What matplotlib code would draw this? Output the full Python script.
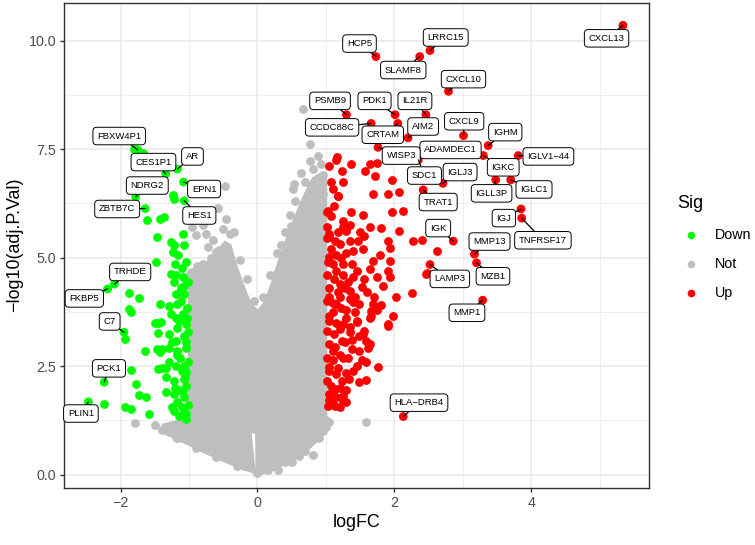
import matplotlib
matplotlib.use("Agg")
import matplotlib.pyplot as plt
from matplotlib.lines import Line2D

plt.rcParams['font.family'] = ['Liberation Sans', 'DejaVu Sans']

# labelled genes: name, logFC, -log10(adj.P.Val)
lab_gene = ["CXCL13", "HCP5", "LRRC15", "SLAMF8", "CXCL10", "PSMB9", "CCDC88C", "PDK1",
            "IL21R", "CRTAM", "AIM2", "CXCL9", "IGHM", "ADAMDEC1", "WISP3", "IGLV1−44",
            "IGKC", "SDC1", "IGLJ3", "IGLL3P", "IGLC1", "TRAT1", "IGJ", "TNFRSF17", "IGK",
            "MMP13", "MZB1", "LAMP3", "MMP1", "HLA−DRB4",
            "FBXW4P1", "CES1P1", "AR", "NDRG2", "ZBTB7C", "EPN1", "HES1", "TRHDE", "FKBP5",
            "C7", "PCK1", "PLIN1"]
lab_fc = [5.34, 1.73, 2.52, 2.37, 2.79, 1.30, 1.66, 2.01,
          2.46, 2.05, 2.20, 3.01, 3.37, 3.05, 1.76, 3.81,
          3.30, 2.35, 2.71, 3.48, 3.70, 2.42, 3.85, 3.86, 2.86,
          3.17, 3.20, 2.52, 3.29, 2.13,
          -1.75, -1.34, -1.17, -1.78, -1.64, -1.08, -1.07, -2.09, -2.19,
          -1.95, -2.24, -2.47]
lab_p = [10.35, 9.63, 9.77, 9.63, 8.83, 8.29, 8.09, 8.29,
         8.29, 8.09, 7.76, 7.81, 7.58, 7.42, 7.54, 7.35,
         7.35, 7.25, 6.71, 6.79, 6.79, 6.56, 6.12, 5.91, 5.38,
         5.08, 4.88, 4.84, 4.02, 1.34,
         7.48, 6.93, 7.04, 6.40, 6.13, 6.74, 6.31, 4.39, 4.28,
         3.28, 2.13, 1.68]

# other significant genes (up)
up_fc = [1.05, 1.15, 1.23, 1.37, 1.64, 1.74, 1.57, 1.71, 1.96, 1.25, 1.08, 1.10, 1.18, 1.69,
         1.91, 2.07, 1.01, 1.37, 1.54, 1.96, 2.13, 1.25, 1.25, 1.30, 1.64, 1.81, 2.07, 2.40,
         2.27, 2.62, 2.47, 2.26, 2.02, 1.01, 1.05, 1.13, 1.35, 1.47, 1.91, 1.40, 1.54, 1.79,
         1.93, 1.69, 1.93, 1.64, 1.91, 1.74, 1.93, 1.84, 1.52, 1.35, 1.49, 1.69, 1.66, 1.98,
         1.91, 1.25, 1.10, 1.05, 1.20, 1.15, 1.05, 1.25, 1.40, 1.35, 1.20, 1.45,
         1.15, 1.40, 1.66, 1.74, 1.64, 1.91, 1.05, 1.45, 1.35, 1.54, 1.59, 1.61, 1.23, 1.10,
         1.49, 1.52, 1.59, 1.76, 1.25, 1.05, 1.15, 1.23, 1.49, 1.59, 1.13, 1.25, 1.30, 1.05,
         1.13, 1.16, 1.18, 1.03, 1.05, 1.20,
         1.02, 1.08, 1.15, 1.03, 1.10, 1.22, 1.30, 1.02, 1.12, 1.25, 1.32, 1.05, 1.18, 1.28,
         1.02, 1.10, 1.22, 1.30, 1.05, 1.15, 1.30, 1.02, 1.12, 1.20, 1.35, 1.04, 1.13, 1.28,
         1.38, 1.02, 1.10, 1.20, 1.32, 1.04, 1.18, 1.30, 1.02, 1.08, 1.20, 1.34, 1.04, 1.15,
         1.03, 1.10, 1.20, 1.42, 1.48, 1.45, 1.38, 1.45, 1.55, 1.60, 1.50, 1.55, 1.35, 1.12,
         1.08, 1.17, 1.42, 1.70, 1.80, 1.55, 1.65, 1.38, 1.40, 1.30, 1.25, 2.46]
up_p = [7.12, 7.24, 7.00, 7.16, 7.16, 7.17, 6.99, 6.89, 6.79, 6.74, 6.74, 6.58, 6.43, 6.47,
        6.47, 6.52, 6.06, 6.04, 5.99, 6.06, 6.08, 5.85, 5.70, 5.62, 5.71, 5.68, 5.62, 5.41,
        5.39, 5.16, 4.64, 4.18, 4.09, 5.70, 5.47, 5.39, 5.39, 5.39, 5.39, 5.16, 5.20, 5.07,
        5.22, 4.92, 4.93, 4.74, 4.70, 4.56, 4.55, 4.35, 4.32, 4.05, 3.93, 3.93, 3.66, 3.66,
        3.47, 3.47, 3.74, 4.09, 4.39, 4.70, 5.01, 4.86, 4.55, 4.24, 4.09, 3.55,
        3.93, 3.97, 3.78, 3.79, 3.62, 3.43, 3.66, 3.51, 3.28, 3.24, 3.09, 2.93, 3.09, 2.86,
        2.86, 2.64, 2.59, 2.47, 2.70, 2.47, 2.32, 2.17, 2.13, 2.18, 1.97, 1.82, 1.67, 1.71,
        1.59, 7.31, 6.41, 6.07, 5.55, 5.32,
        5.45, 5.20, 5.05, 4.90, 4.85, 5.00, 5.10, 4.60, 4.50, 4.60, 4.45, 4.30, 4.20, 4.30,
        4.00, 3.95, 3.85, 3.80, 3.55, 3.50, 3.60, 3.30, 3.25, 3.35, 3.40, 3.00, 2.95, 3.05,
        3.10, 2.70, 2.65, 2.75, 2.70, 2.40, 2.45, 2.35, 2.15, 2.05, 2.00, 2.20, 1.85, 1.80,
        1.58, 1.62, 1.57, 3.75, 3.20, 2.50, 4.85, 4.70, 4.50, 4.20, 5.60, 5.50, 5.75, 6.20,
        5.95, 5.60, 4.10, 4.10, 3.90, 3.30, 3.00, 2.90, 2.40, 1.95, 1.70, 4.62]

# other significant genes (down)
down_fc = [-1.80, -1.68, -1.24, -1.22, -1.62, -1.43, -1.36, -1.47, -1.26, -1.22, -1.08, -1.09,
           -1.24, -1.48, -1.26, -1.19, -1.09, -1.22, -1.07, -1.87, -1.73, -1.87, -1.85, -1.43,
           -1.29, -1.19, -1.17, -1.07, -1.46, -1.41, -1.26, -1.19, -1.09, -1.04, -1.02, -1.93,
           -1.46, -1.29, -1.19, -1.07, -1.17, -1.64, -1.47, -1.43, -1.29, -1.17, -1.04, -1.85,
           -1.78, -1.46, -1.33, -1.19, -1.07, -1.04, -1.34, -1.22, -1.07, -1.73, -1.63, -1.34,
           -1.22, -1.09, -1.07, -1.17, -2.24, -1.94, -1.85, -1.58, -1.22, -1.14, -1.04,
           -1.05, -1.10, -1.02, -1.12, -1.03, -1.15, -1.05, -1.13, -1.02, -1.10, -1.04, -1.14,
           -1.02, -1.10, -1.04, -1.08, -1.18, -1.25, -1.30, -1.12, -1.20, -1.16, -1.03, -1.06,
           -1.20, -1.25, -1.50, -1.40, -1.39]
down_p = [7.50, 7.42, 6.44, 6.35, 5.87, 5.89, 5.94, 5.48, 5.35, 5.30, 5.28, 5.55,
          5.12, 4.91, 4.62, 4.59, 4.55, 4.43, 4.35, 4.18, 4.06, 3.82, 3.74, 3.93,
          3.89, 4.16, 3.93, 4.16, 3.49, 3.51, 3.70, 3.62, 3.70, 3.47, 3.28, 3.13,
          3.26, 3.24, 3.09, 3.20, 3.39, 2.84, 2.90, 2.82, 2.93, 2.86, 2.93, 2.41,
          2.10, 2.43, 2.46, 2.51, 2.51, 2.36, 2.24, 2.17, 2.21, 1.84, 1.78, 1.90,
          1.86, 1.94, 1.78, 1.67, 1.63, 1.57, 1.51, 1.40, 1.47, 1.36, 1.40,
          4.90, 4.75, 4.45, 4.00, 3.85, 3.55, 3.05, 2.70, 2.60, 2.40, 2.05, 1.95,
          1.60, 1.55, 1.28, 1.45, 2.75, 3.05, 2.60, 4.30, 4.85, 5.05, 3.60, 2.25,
          2.00, 1.55, 3.50, 2.90, 2.45]

# not significant genes: outline of the dense grey cloud
grey_core_x = [0.02, -0.30, -0.60, -0.90, -1.15, -1.35, -1.42, -1.38, -1.20, -1.02, -1.02,
               -0.90, -0.75, -0.60, -0.48, -0.38, -0.30, -0.20, -0.10, 0.00, 0.10, 0.20,
               0.30, 0.40, 0.50, 0.60, 0.70, 0.80, 0.90, 0.98, 1.02, 1.02, 1.08, 1.03,
               0.90, 0.70, 0.45, 0.20]
grey_core_y = [-0.02, 0.16, 0.36, 0.58, 0.78, 0.92, 1.05, 1.18, 1.25, 1.30, 4.40,
               4.70, 4.90, 5.15, 5.40, 5.30, 4.85, 4.40, 4.00, 3.80, 4.00, 4.45,
               4.95, 5.40, 5.80, 6.20, 6.55, 6.85, 6.95, 6.95, 6.80, 1.35, 1.28, 1.10,
               0.78, 0.50, 0.26, 0.06]
notch_x = [-0.03, -0.085, -0.035]
notch_y = [0.14, 0.95, 0.95]

# not significant genes: scattered points around the cloud
not_fc = [-0.48, -0.57, -0.80, -0.95, -0.51, -0.90, -0.75, -0.73, -0.60, -0.80, -0.95, -0.46,
          -0.40, -0.65, -0.56, -0.46, -0.99, -0.85,
          0.67, 0.76, 0.88, 0.76, 0.93, 0.64, 0.81, 0.54, 0.86, 0.96, 0.78, 0.52, 0.76, 0.47,
          0.61, 0.49, 0.69, 0.86, 0.35, 0.52, 0.66, 0.91, 0.27, 0.42, 0.95,
          1.05, 1.59, 0.81, 0.61, -1.79, -1.39, -1.19, -1.35, -1.17, 0.60, -0.90, -0.60,
          -0.30, 0.00, 0.30, 0.50, 0.90, 1.00, -1.50,
          -1.30, -1.10, -0.80, -0.50, -0.20, 0.15, 0.40, 0.70, 0.95, -0.35, -0.25, -0.15,
          -0.05, 0.08, 0.18, 0.28, 0.40, 0.55, 0.70, -0.68, -0.88]
not_p = [6.66, 6.15, 5.74, 5.70, 5.66, 5.51, 5.55, 5.24, 5.13, 4.86, 4.67, 5.90,
         5.55, 5.40, 5.17, 4.94, 4.63, 4.32,
         8.42, 7.62, 7.35, 7.23, 7.16, 6.95, 7.04, 6.70, 6.74, 6.47, 6.43, 6.57, 6.18, 5.99,
         5.95, 5.72, 5.72, 5.72, 5.30, 5.42, 5.00, 5.30, 4.63, 4.86, 6.90,
         1.22, 1.21, 0.45, 0.49, 1.20, 1.03, 0.87, 1.10, 0.84, 0.43, 0.62, 0.40,
         0.20, 0.05, 0.12, 0.30, 0.85, 1.10, 1.15,
         0.98, 0.85, 0.62, 0.42, 0.20, 0.10, 0.30, 0.55, 1.00, 5.60, 4.95, 4.50,
         4.00, 4.10, 4.60, 5.10, 5.60, 6.30, 6.75, 5.00, 4.80]

# label box positions (data coords)
lab_x = [5.10, 1.49, 2.75, 2.13, 3.01, 1.06, 1.09, 1.71, 2.30, 1.83, 2.42, 3.02, 3.62, 2.82,
         2.10, 4.25, 3.59, 2.44, 2.96, 3.42, 4.04, 2.64, 3.60, 4.17, 2.64, 3.39, 3.44, 2.81,
         3.06, 2.36,
         -2.02, -1.52, -0.95, -1.61, -2.05, -0.78, -0.85, -1.86, -2.53, -2.16, -2.17, -2.58]
lab_y = [10.05, 9.93, 10.07, 9.32, 9.11, 8.61, 8.00, 8.61, 8.61, 7.83, 8.02, 8.14, 7.89, 7.48,
         7.35, 7.33, 7.08, 6.89, 6.97, 6.48, 6.57, 6.28, 5.91, 5.40, 5.68, 5.37, 4.57, 4.51,
         3.73, 1.66,
         7.80, 7.20, 7.33, 6.66, 6.12, 6.58, 5.97, 4.67, 4.06, 3.53, 2.45, 1.41]
no_segment = {"ADAMDEC1"}

c_down, c_not, c_up = "#00FF00", "#BEBEBE", "#FF0000"
pt = 40

fig = plt.figure(figsize=(7.55, 5.45), dpi=100)
ax = fig.add_axes([0.0854, 0.105, 0.7742, 0.890])

ax.fill(grey_core_x, grey_core_y, color=c_not, lw=0, zorder=1)
ax.fill(notch_x, notch_y, color="white", lw=0, zorder=1.5)
ax.scatter(not_fc, not_p, s=pt, c=c_not, linewidths=0, zorder=2)
ax.scatter(down_fc, down_p, s=pt, c=c_down, linewidths=0, zorder=3)
ax.scatter(up_fc, up_p, s=pt, c=c_up, linewidths=0, zorder=3)
lab_col = [c_up if v > 0 else c_down for v in lab_fc]
ax.scatter(lab_fc, lab_p, s=pt, c=lab_col, linewidths=0, zorder=3)

for g, fx, fy, lx, ly in zip(lab_gene, lab_fc, lab_p, lab_x, lab_y):
    arrow = None
    if g not in no_segment:
        arrow = dict(arrowstyle='-', color='black', lw=0.9, shrinkA=0, shrinkB=0)
    ax.annotate(g, xy=(fx, fy), xytext=(lx, ly), textcoords='data',
                ha='center', va='center', fontsize=6.8, color='black',
                bbox=dict(boxstyle='round,pad=0.45,rounding_size=0.4', fc='white',
                          ec='black', lw=0.7),
                arrowprops=arrow, zorder=5, annotation_clip=False)

ax.set_xlim(-2.82, 5.72)
ax.set_ylim(-0.30, 10.87)
ax.set_xticks([-2, 0, 2, 4])
ax.set_xticklabels(["−2", "0", "2", "4"])
ax.set_xticks([-1, 1, 3, 5], minor=True)
ax.set_yticks([0, 2.5, 5, 7.5, 10])
ax.set_yticklabels(["0.0", "2.5", "5.0", "7.5", "10.0"])
ax.set_yticks([1.25, 3.75, 6.25, 8.75], minor=True)
ax.grid(which='major', color='#EBEBEB', lw=1.2, zorder=0)
ax.grid(which='minor', color='#EBEBEB', lw=0.6, zorder=0)
ax.set_axisbelow(True)
ax.tick_params(which='major', length=3.2, width=1.0, color='#333333',
               labelsize=10.3, labelcolor='#4D4D4D', pad=2.6)
ax.tick_params(which='minor', length=0)
for sp in ax.spines.values():
    sp.set_color('#333333')
    sp.set_linewidth(1.0)
ax.set_xlabel("logFC", fontsize=12.9, labelpad=3)
ax.set_ylabel("−log10(adj.P.Val)", fontsize=12.9, labelpad=4)

# legend
fig.text(677 / 755, 1 - 203 / 545, "Sig", fontsize=12.9, ha='left', va='center')
for name, col, yy in [("Down", c_down, 235), ("Not", c_not, 264), ("Up", c_up, 293)]:
    fig.add_artist(Line2D([691 / 755], [1 - yy / 545], marker='o', markersize=5.5,
                          markerfacecolor=col, markeredgewidth=0, linestyle='none',
                          transform=fig.transFigure))
    fig.text(715 / 755, 1 - yy / 545, name, fontsize=10.3, ha='left', va='center')

fig.savefig("out.png", dpi=100)
